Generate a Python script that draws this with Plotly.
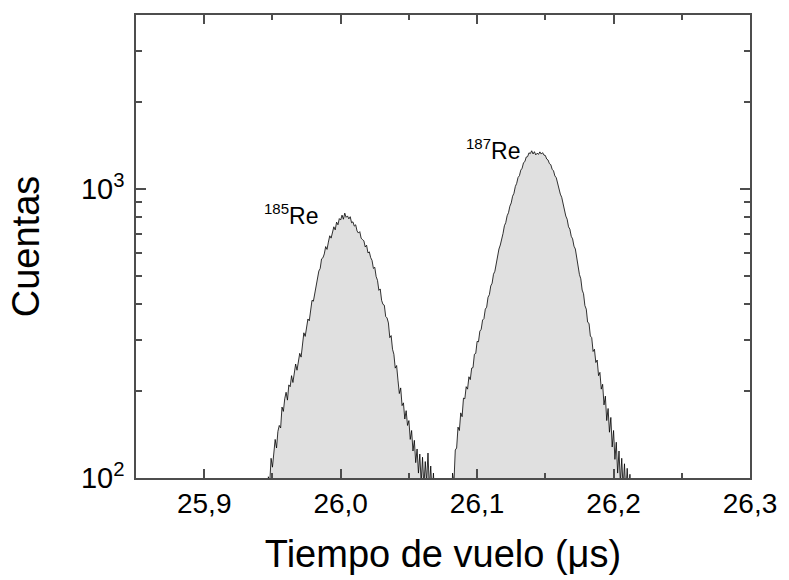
import math
import plotly.graph_objects as go

# ---- data ----
bin_width = 0.001  # µs

t0_185 = 25.946
counts_185 = [
    72, 101, 96, 117, 109, 123, 136, 127, 145, 152,
    149, 176, 170, 188, 198, 186, 210, 207, 226, 214,
    233, 248, 236, 251, 270, 262, 287, 318, 309, 338,
    355, 350, 379, 412, 409, 432, 470, 484, 520, 531,
    573, 578, 596, 632, 618, 655, 689, 676, 716, 740,
    722, 768, 752, 790, 781, 812, 786, 825, 798, 807,
    788, 802, 764, 770, 744, 752, 716, 704, 712, 676,
    668, 662, 630, 639, 601, 606, 579, 566, 531, 536,
    498, 483, 446, 451, 412, 399, 396, 362, 358, 344,
    306, 311, 279, 268, 240, 245, 218, 196, 205, 178,
    182, 160, 171, 152, 158, 136, 146, 124, 135, 113,
    126, 104, 121, 96, 118, 93, 114, 97, 122, 92,
    110, 88, 104, 80,
]

t0_187 = 26.081
counts_187 = [
    72, 104, 96, 125, 127, 150, 146, 168, 163, 189,
    188, 207, 203, 224, 219, 240, 241, 268, 270, 297,
    296, 322, 327, 352, 356, 384, 390, 422, 431, 462,
    472, 507, 519, 557, 578, 620, 640, 682, 702, 746,
    765, 808, 828, 872, 895, 944, 966, 1020, 1046, 1096,
    1112, 1162, 1180, 1233, 1244, 1290, 1294, 1334, 1326, 1356,
    1322, 1346, 1312, 1330, 1318, 1344, 1321, 1336, 1310, 1306,
    1270, 1260, 1224, 1214, 1170, 1156, 1110, 1094, 1040, 1016,
    960, 936, 884, 858, 806, 786, 740, 726, 686, 672,
    634, 620, 572, 552, 506, 489, 447, 434, 395, 384,
    346, 343, 310, 306, 274, 279, 251, 256, 226, 232,
    203, 211, 179, 192, 158, 174, 144, 162, 128, 146,
    116, 133, 104, 124, 96, 117, 92, 112, 88, 108,
    86, 103, 78,
]

x_ticks = [25.9, 26.0, 26.1, 26.2, 26.3]
x_ticktext = ["25,9", "26,0", "26,1", "26,2", "26,3"]
x_minor = [25.95, 26.05, 26.15, 26.25]
y_ticks = [100, 1000]
y_ticktext = ["10<sup>2</sup>", "10<sup>3</sup>"]
y_minor = [200, 300, 400, 500, 600, 700, 800, 900, 2000, 3000]

labels = [
    {"mass": "185", "x": 25.9420, "count": 715},
    {"mass": "187", "x": 26.0906, "count": 1200},
]

FONT = "Liberation Sans, Arial, sans-serif"
AXIS_COLOR = "#4d4d4d"


def times(t0, n):
    return [round(t0 + i * bin_width, 4) for i in range(n)]


fig = go.Figure()
for t0, counts in [(t0_185, counts_185), (t0_187, counts_187)]:
    fig.add_trace(go.Scatter(
        x=times(t0, len(counts)), y=counts,
        mode="lines", line=dict(color="black", width=0.8),
        fill="tozeroy", fillcolor="#e0e0e0", showlegend=False,
    ))

for lab in labels:
    fig.add_annotation(
        x=lab["x"], y=math.log10(lab["count"]), xref="x", yref="y",
        text="<sup><span style='font-size:15px'>" + lab["mass"] + "</span></sup>Re",
        showarrow=False, xanchor="left", yanchor="bottom",
        font=dict(family=FONT, size=23, color="black"),
    )

fig.update_layout(
    width=789, height=580,
    margin=dict(l=136, r=32, t=15, b=102),
    paper_bgcolor="white", plot_bgcolor="white",
    font=dict(family=FONT, color="black"),
)
fig.update_xaxes(
    range=[25.85, 26.3], tickmode="array", tickvals=x_ticks, ticktext=x_ticktext,
    ticks="inside", ticklen=9, tickwidth=1.5, tickcolor=AXIS_COLOR,
    minor=dict(tickmode="array", tickvals=x_minor, ticks="inside", ticklen=5,
               tickwidth=1.5, tickcolor=AXIS_COLOR, showgrid=False),
    showline=True, linecolor=AXIS_COLOR, linewidth=1.5, mirror="ticks",
    showgrid=False, zeroline=False,
    tickfont=dict(size=28, family=FONT, color="black"),
    title=dict(text="Tiempo de vuelo (μs)", font=dict(size=38, family=FONT, color="black"), standoff=22),
)
fig.update_yaxes(
    type="log", range=[2, math.log10(4000)], tickmode="array", tickvals=y_ticks,
    ticktext=y_ticktext, ticklabelstandoff=4,
    ticks="inside", ticklen=10, tickwidth=1.5, tickcolor=AXIS_COLOR,
    minor=dict(tickmode="array", tickvals=y_minor, ticks="inside", ticklen=6,
               tickwidth=1.5, tickcolor=AXIS_COLOR, showgrid=False),
    showline=True, linecolor=AXIS_COLOR, linewidth=1.5, mirror="ticks",
    showgrid=False, zeroline=False,
    tickfont=dict(size=29, family=FONT, color="black"),
    title=dict(text="Cuentas", font=dict(size=38, family=FONT, color="black"), standoff=30),
)

fig.write_html("out.html")
